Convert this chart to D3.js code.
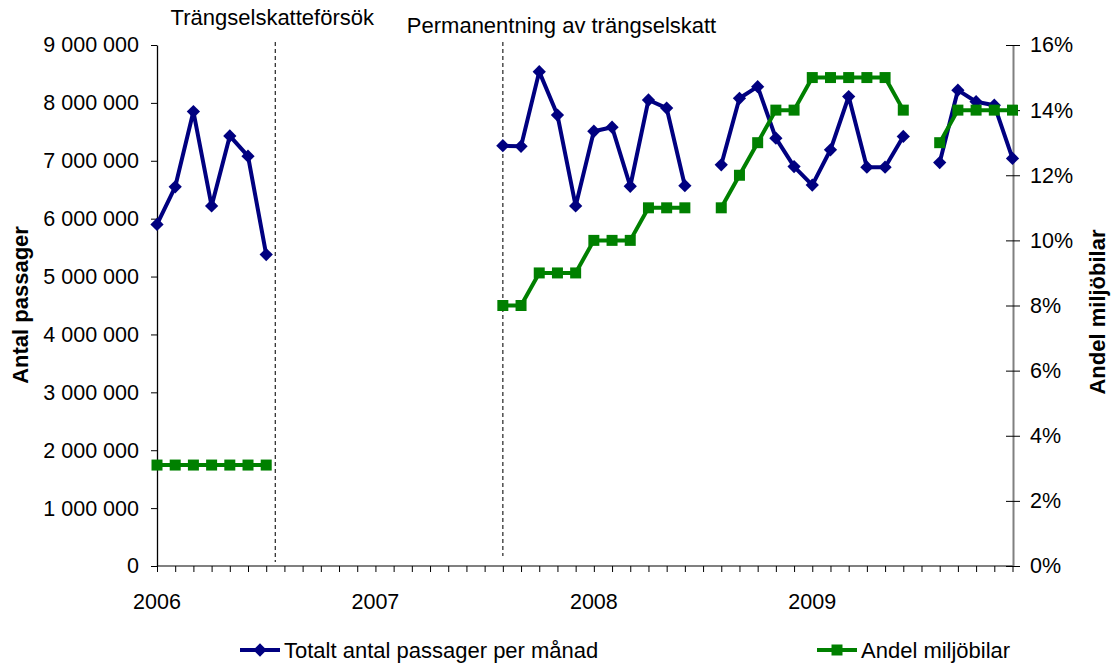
<!DOCTYPE html>
<html>
    <head>
        <meta charset="utf-8"/>
        <script src="https://cdnjs.cloudflare.com/ajax/libs/d3/7.8.5/d3.min.js"></script>
        <style>
            body { margin: 0; background: #fff; }
            text { font-family: "Liberation Sans", Arial, sans-serif; }
        </style>
    </head>
    <body>
        <script>
            // monthly data Jan 2006 - Dec 2009, null = no data
            const years = ["2006", "2007", "2008", "2009"];
            const passager = [
                5900000, 6550000, 7850000, 6220000, 7430000, 7080000, 5380000,
                null, null, null, null, null,
                null, null, null, null, null, null, null,
                7260000, 7250000, 8540000, 7790000, 6220000,
                7510000, 7580000, 6560000, 8050000, 7910000, 6570000,
                null,
                6930000, 8080000, 8280000, 7390000, 6900000,
                6580000, 7190000, 8110000, 6890000, 6890000, 7420000,
                null,
                6970000, 8220000, 8020000, 7960000, 7040000
            ];
            const andel = [
                3.1, 3.1, 3.1, 3.1, 3.1, 3.1, 3.1,
                null, null, null, null, null,
                null, null, null, null, null, null, null,
                8, 8, 9, 9, 9,
                10, 10, 10, 11, 11, 11,
                null,
                11, 12, 13, 14, 14,
                15, 15, 15, 15, 15, 14,
                null,
                13, 14, 14, 14, 14
            ];
            const leftTicks = d3.range(0, 9000001, 1000000);
            const rightTicks = d3.range(0, 17, 2);
            const events = [
                {pos: 6.5, label: "Trängselskatteförsök"},
                {pos: 19, label: "Permanentning av trängselskatt"}
            ];

            const width = 1113, height = 666;
            const margin = {top: 45, right: 100, bottom: 100, left: 157};
            const navy = "#000080", green = "#008000";

            const months = d3.range(years.length * 12);

            const svg = d3.select("body").append("svg")
                .attr("width", width)
                .attr("height", height);

            const x = d3.scalePoint()
                .domain(months)
                .range([margin.left, 1012.5]);
            const xAt = p => x(0) + p * x.step();

            const yL = d3.scaleLinear()
                .domain([0, 9000000])
                .range([566, margin.top]);
            const yR = d3.scaleLinear()
                .domain([0, 16])
                .range([566, margin.top]);

            const fmt = d3.formatLocale({decimal: ",", thousands: " ", grouping: [3], currency: ["", ""]}).format(",d");

            // event lines
            events.forEach((e, i) => {
                svg.append("line")
                    .attr("x1", xAt(e.pos)).attr("x2", xAt(e.pos))
                    .attr("y1", 42).attr("y2", i == 0 ? 562 : 556)
                    .attr("stroke", "#333")
                    .attr("stroke-width", 1.3)
                    .attr("stroke-dasharray", "4,3");
            });
            svg.append("text")
                .attr("x", xAt(events[0].pos) - 3).attr("y", 25)
                .attr("text-anchor", "middle")
                .attr("font-size", 22)
                .text(events[0].label);
            svg.append("text")
                .attr("x", xAt(events[1].pos) - 96).attr("y", 33)
                .attr("font-size", 22)
                .text(events[1].label);

            // x axis
            svg.append("g")
                .attr("transform", `translate(0,566)`)
                .call(d3.axisBottom(x).tickSize(6).tickSizeOuter(0).tickFormat(""))
                .call(g => g.select(".domain").attr("stroke", "#808080").attr("stroke-width", 2).attr("d", `M${margin.left},0H1013`))
                .call(g => g.selectAll(".tick line").attr("stroke", "#000"));
            svg.append("g")
                .selectAll("text")
                .data(years)
                .join("text")
                .attr("x", (d, i) => x(i * 12))
                .attr("y", 609)
                .attr("text-anchor", "middle")
                .attr("font-size", 21.5)
                .text(d => d);

            // left axis
            svg.append("g")
                .attr("transform", `translate(${margin.left},0)`)
                .call(d3.axisLeft(yL).tickValues(leftTicks).tickFormat(fmt).tickSize(6).tickSizeOuter(0).tickPadding(12))
                .call(g => g.select(".domain").attr("stroke", "#000").attr("stroke-width", 1.3))
                .call(g => g.selectAll(".tick text").attr("font-size", 21.5).attr("font-family", "Liberation Sans, Arial, sans-serif").attr("fill", "#000"));

            // right axis
            svg.append("g")
                .attr("transform", `translate(1013,0)`)
                .call(d3.axisRight(yR).tickValues(rightTicks).tickFormat(d => d + "%").tickSize(7).tickSizeOuter(0).tickPadding(10))
                .call(g => g.select(".domain").attr("stroke", "#808080").attr("stroke-width", 2))
                .call(g => g.selectAll(".tick line").attr("x1", -7).attr("stroke", "#000"))
                .call(g => g.selectAll(".tick text").attr("font-size", 21.5).attr("font-family", "Liberation Sans, Arial, sans-serif").attr("fill", "#000"));

            // axis titles
            svg.append("text")
                .attr("transform", "translate(28,305) rotate(-90)")
                .attr("text-anchor", "middle")
                .attr("font-size", 22)
                .attr("font-weight", "bold")
                .text("Antal passager");
            svg.append("text")
                .attr("transform", "translate(1105,312) rotate(-90)")
                .attr("text-anchor", "middle")
                .attr("font-size", 22)
                .attr("font-weight", "bold")
                .text("Andel miljöbilar");

            // series
            const diamond = d3.symbol(d3.symbolSquare, 88);
            const square = d3.symbol(d3.symbolSquare, 121);

            const lineL = d3.line()
                .defined(d => d != null)
                .x((d, i) => x(i))
                .y(d => yL(d));
            const lineR = d3.line()
                .defined(d => d != null)
                .x((d, i) => x(i))
                .y(d => yR(d));

            svg.append("path")
                .attr("d", lineL(passager))
                .attr("fill", "none")
                .attr("stroke", navy)
                .attr("stroke-width", 4)
                .attr("stroke-linejoin", "round");
            svg.append("g")
                .selectAll("path")
                .data(passager.map((v, i) => ({v, i})).filter(d => d.v != null))
                .join("path")
                .attr("d", diamond)
                .attr("transform", d => `translate(${x(d.i)},${yL(d.v)}) rotate(45)`)
                .attr("fill", navy);

            svg.append("path")
                .attr("d", lineR(andel))
                .attr("fill", "none")
                .attr("stroke", green)
                .attr("stroke-width", 4)
                .attr("stroke-linejoin", "round");
            svg.append("g")
                .selectAll("path")
                .data(andel.map((v, i) => ({v, i})).filter(d => d.v != null))
                .join("path")
                .attr("d", square)
                .attr("transform", d => `translate(${x(d.i)},${yR(d.v)})`)
                .attr("fill", green);

            // legend
            const legend = [
                {x: 240, label: "Totalt antal passager per månad", color: navy, sym: diamond, rot: 45},
                {x: 817, label: "Andel miljöbilar", color: green, sym: square, rot: 0}
            ];
            const lg = svg.append("g")
                .selectAll("g")
                .data(legend)
                .join("g")
                .attr("transform", d => `translate(${d.x},650)`);
            lg.append("line")
                .attr("x1", 0).attr("x2", 40)
                .attr("stroke", d => d.color)
                .attr("stroke-width", 4);
            lg.append("path")
                .attr("d", d => d.sym())
                .attr("transform", d => `translate(20,0) rotate(${d.rot})`)
                .attr("fill", d => d.color);
            lg.append("text")
                .attr("x", 44)
                .attr("y", 8)
                .attr("font-size", 22)
                .text(d => d.label);
        </script>
    </body>
</html>
